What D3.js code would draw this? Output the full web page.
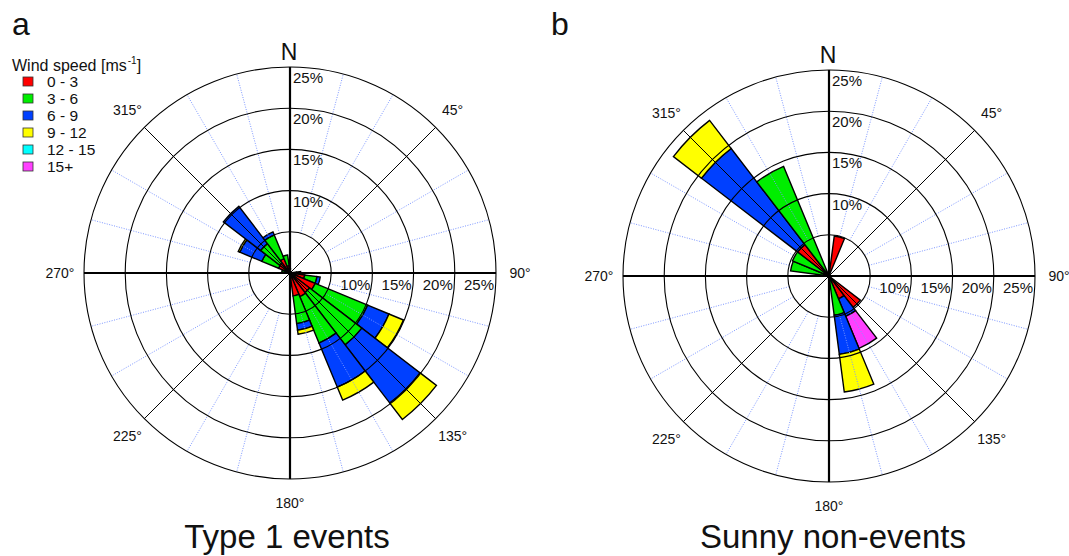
<!DOCTYPE html>
<html>
<head>
<meta charset="utf-8">
<script src="https://cdn.jsdelivr.net/npm/d3@7"></script>
<style>
  html, body { margin: 0; padding: 0; background: #fff; }
  svg { display: block; font-family: 'Liberation Sans', Arial, sans-serif; }
</style>
</head>
<body>
<div id="chart"></div>
<script>
// wind speed classes and colours
var speedClasses = ['0 - 3', '3 - 6', '6 - 9', '9 - 12', '12 - 15', '15+'];
var speedColors = ['#ff0000', '#00ee00', '#0040ff', '#ffff00', '#00ffff', '#ff40ff'];

// radial grid (percent frequency) and compass labels
var ringValues = [5, 10, 15, 20, 25];
var ringLabels = [10, 15, 20, 25];
var degreeLabels = [45, 90, 135, 180, 225, 270, 315];

// panel a: Type 1 events, frequency (%) per direction for each speed class
var type1Dirs = [0, 90, 105, 120, 135, 150, 165, 285, 300, 315, 330, 345];
var type1Ws0 = [0.5, 0.8, 1.8, 3.3, 3.0, 3.1, 2.8, 0.6, 1.5, 1.6, 1.9, 0.9];
var type1Ws3 = [0, 0.5, 1.5, 6.9, 8.0, 6.1, 3.4, 0.4, 2.2, 2.9, 3.1, 1.3];
var type1Ws6 = [0, 0, 0.4, 2.8, 8.9, 5.8, 0.8, 0, 2.9, 5.7, 0.4, 0];
var type1Ws9 = [0, 0, 0, 1.9, 2.5, 1.7, 0.5, 0, 0.2, 0, 0, 0];
var type1Ws12 = [0, 0, 0, 0, 0, 0, 0, 0, 0, 0, 0, 0];
var type1Ws15 = [0, 0, 0, 0, 0, 0, 0, 0, 0, 0, 0, 0];

// panel b: Sunny non-events
var sunnyDirs = [15, 135, 150, 165, 285, 300, 315, 330];
var sunnyWs0 = [4.9, 4.8, 3.0, 0, 0, 0, 4.8, 0];
var sunnyWs3 = [0, 0, 0, 4.8, 4.7, 4.8, 0, 14.4];
var sunnyWs6 = [0, 0, 2.3, 4.8, 0, 0, 14.7, 0];
var sunnyWs9 = [0, 0, 0, 4.6, 0, 0, 4.3, 0];
var sunnyWs12 = [0, 0, 0, 0, 0, 0, 0, 0];
var sunnyWs15 = [0, 0, 4.2, 0, 0, 0, 0, 0];

var width = 1069, height = 556;
var R = 206;
var sector = 15;

var svg = d3.select('#chart').append('svg')
  .attr('width', width)
  .attr('height', height);

svg.append('rect').attr('width', width).attr('height', height).attr('fill', '#fff');

drawRose(290, 273, 'a', 'Type 1 events', -3, type1Dirs,
  [type1Ws0, type1Ws3, type1Ws6, type1Ws9, type1Ws12, type1Ws15]);
drawRose(829, 276, 'b', 'Sunny non-events', 4, sunnyDirs,
  [sunnyWs0, sunnyWs3, sunnyWs6, sunnyWs9, sunnyWs12, sunnyWs15]);
drawLegend();

function rad(deg) { return deg * Math.PI / 180; }

function drawRose(cx, cy, letter, title, titleShift, dirs, classes) {
  var r = d3.scaleLinear().domain([0, 25]).range([0, R]);
  var g = svg.append('g').attr('transform', 'translate(' + cx + ',' + cy + ')');

  // stack the speed classes per direction
  var segs = [];
  dirs.forEach(function (dir, i) {
    var acc = 0;
    classes.forEach(function (arr, k) {
      if (arr[i] > 0) {
        segs.push({ dir: dir, k: k, from: acc, to: acc + arr[i] });
        acc += arr[i];
      }
    });
  });

  var arc = d3.arc()
    .innerRadius(function (d) { return r(d.from); })
    .outerRadius(function (d) { return r(d.to); })
    .startAngle(function (d) { return rad(d.dir - sector / 2); })
    .endAngle(function (d) { return rad(d.dir + sector / 2); });

  g.selectAll('.seg')
    .data(segs)
    .join('path')
    .attr('class', 'seg')
    .attr('d', arc)
    .attr('fill', function (d) { return speedColors[d.k]; })
    .attr('stroke', '#000')
    .attr('stroke-width', 1.4)
    .attr('stroke-linejoin', 'miter');

  // dotted spokes every 15 deg (not on the 45 deg lines)
  var spokes = d3.range(0, 360, 15).filter(function (a) { return a % 45 !== 0; });
  g.selectAll('.spoke')
    .data(spokes)
    .join('line')
    .attr('x1', function (a) { return r(5) * Math.sin(rad(a)); })
    .attr('y1', function (a) { return -r(5) * Math.cos(rad(a)); })
    .attr('x2', function (a) { return r(25) * Math.sin(rad(a)); })
    .attr('y2', function (a) { return -r(25) * Math.cos(rad(a)); })
    .attr('stroke', '#7d97ff')
    .attr('stroke-width', 1)
    .attr('stroke-dasharray', '1,1.5');

  // diagonals
  g.selectAll('.diag')
    .data([45, 135, 225, 315])
    .join('line')
    .attr('x2', function (a) { return r(25) * Math.sin(rad(a)); })
    .attr('y2', function (a) { return -r(25) * Math.cos(rad(a)); })
    .attr('stroke', '#000')
    .attr('stroke-width', 1);

  g.selectAll('.ring')
    .data(ringValues)
    .join('circle')
    .attr('r', function (v) { return r(v); })
    .attr('fill', 'none')
    .attr('stroke', '#000')
    .attr('stroke-width', 1.1);

  // main axes
  g.append('line').attr('x1', -R).attr('x2', R).attr('stroke', '#000').attr('stroke-width', 2.2);
  g.append('line').attr('y1', -R).attr('y2', R).attr('stroke', '#000').attr('stroke-width', 2.2);

  // ring labels
  g.selectAll('.rlv')
    .data(ringLabels)
    .join('text')
    .attr('x', 3)
    .attr('y', function (v) { return -r(v) + 16; })
    .attr('font-size', 15)
    .attr('fill', '#111')
    .text(function (v) { return v + '%'; });

  g.selectAll('.rlh')
    .data(ringLabels)
    .join('text')
    .attr('x', function (v) { return r(v) - 2; })
    .attr('y', 17)
    .attr('text-anchor', 'end')
    .attr('font-size', 15)
    .attr('fill', '#111')
    .text(function (v) { return v + '%'; });

  // compass labels
  g.selectAll('.deg')
    .data(degreeLabels)
    .join('text')
    .attr('x', function (a) { return (R + 24) * Math.sin(rad(a)); })
    .attr('y', function (a) { return -(R + 24) * Math.cos(rad(a)); })
    .attr('dy', '0.35em')
    .attr('text-anchor', 'middle')
    .attr('font-size', 14)
    .attr('fill', '#111')
    .text(function (a) { return a + '\u00b0'; });

  g.append('text')
    .attr('x', -1)
    .attr('y', -R - 7)
    .attr('text-anchor', 'middle')
    .attr('font-size', 23)
    .attr('fill', '#111')
    .text('N');

  svg.append('text')
    .attr('x', cx - 278)
    .attr('y', 35)
    .attr('font-size', 32)
    .attr('fill', '#111')
    .text(letter);

  svg.append('text')
    .attr('x', cx + titleShift)
    .attr('y', 548)
    .attr('text-anchor', 'middle')
    .attr('font-size', 33)
    .attr('fill', '#111')
    .text(title);
}

function drawLegend() {
  var lg = svg.append('g').attr('transform', 'translate(12,71)');
  var head = lg.append('text').attr('font-size', 16).attr('fill', '#111');
  head.append('tspan').text('Wind speed [ms');
  head.append('tspan').attr('font-size', 10).attr('dy', -7).attr('dx', 1).text('-1');
  head.append('tspan').attr('dy', 7).text(']');

  var rows = lg.selectAll('.row')
    .data(speedClasses)
    .join('g')
    .attr('transform', function (d, i) { return 'translate(0,' + (6 + i * 17) + ')'; });

  rows.append('rect')
    .attr('x', 11).attr('y', 0)
    .attr('width', 10).attr('height', 9)
    .attr('fill', function (d, i) { return speedColors[i]; })
    .attr('stroke', '#333')
    .attr('stroke-width', 0.8);

  rows.append('text')
    .attr('x', 35)
    .attr('y', 10)
    .attr('font-size', 15.5)
    .attr('fill', '#111')
    .text(function (d) { return d; });
}
</script>
</body>
</html>
